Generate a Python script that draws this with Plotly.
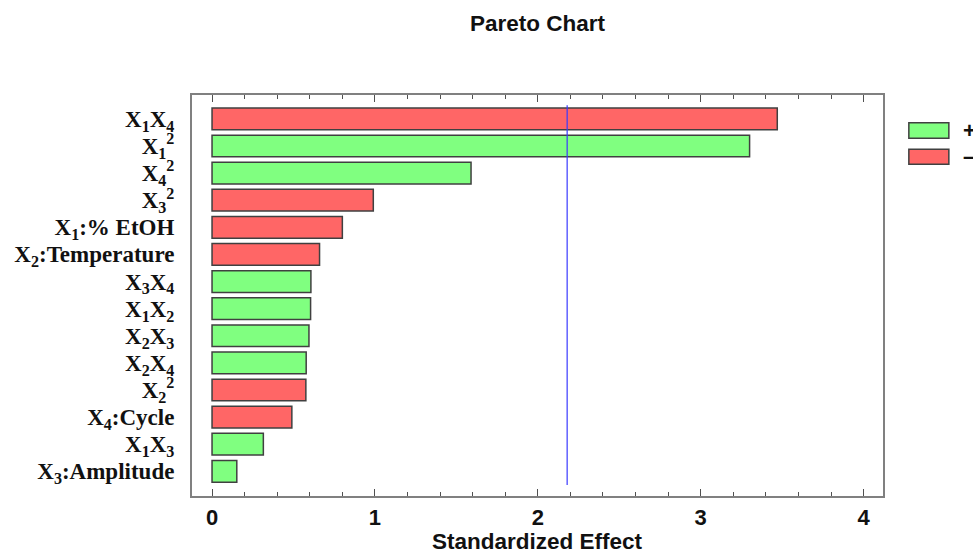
import plotly.graph_objects as go

# Effects in Pareto order (largest first)
terms = [
    "X<sub>1</sub>X<sub>4</sub>",
    "X<sub>1</sub><sup>2</sup>",
    "X<sub>4</sub><sup>2</sup>",
    "X<sub>3</sub><sup>2</sup>",
    "X<sub>1</sub>:% EtOH",
    "X<sub>2</sub>:Temperature",
    "X<sub>3</sub>X<sub>4</sub>",
    "X<sub>1</sub>X<sub>2</sub>",
    "X<sub>2</sub>X<sub>3</sub>",
    "X<sub>2</sub>X<sub>4</sub>",
    "X<sub>2</sub><sup>2</sup>",
    "X<sub>4</sub>:Cycle",
    "X<sub>1</sub>X<sub>3</sub>",
    "X<sub>3</sub>:Amplitude",
]
effects = [3.47, 3.30, 1.59, 0.99, 0.80, 0.66, 0.607, 0.605, 0.595, 0.578, 0.576, 0.49, 0.315, 0.152]
signs = ["-", "+", "+", "-", "-", "-", "+", "+", "+", "+", "-", "-", "+", "+"]
critical_value = 2.18
x_ticks = [0, 1, 2, 3, 4]

POS = "#80FF80"
NEG = "#FF6666"
EDGE = "#404040"
FRAME = "#808080"
SANS = "Liberation Sans, Arial"
SERIF = "Liberation Serif, Times New Roman"

positions = list(range(len(terms)))
colors = [POS if s == "+" else NEG for s in signs]

fig = go.Figure()
fig.add_trace(go.Bar(
    x=effects, y=positions, orientation="h",
    marker=dict(color=colors, line=dict(color=EDGE, width=1.5)),
    width=0.8, showlegend=False, hoverinfo="x+y",
))
# critical value reference line
fig.add_trace(go.Scatter(
    x=[critical_value, critical_value], y=[-0.5, len(terms) - 0.5],
    mode="lines", line=dict(color="#3a3aff", width=1.2),
    showlegend=False, hoverinfo="skip",
))

fig.update_layout(
    width=973, height=552,
    margin=dict(l=192, r=90, t=95, b=56),
    paper_bgcolor="white", plot_bgcolor="white",
    title=dict(text="<b>Pareto Chart</b>", x=0.5, xref="paper", y=1 - 23 / 552,
               yref="container", xanchor="center", yanchor="middle",
               font=dict(family=SANS, size=22.5, color="#111")),
    bargap=0.2,
)
fig.update_xaxes(
    range=[-0.123, 4.119], tickvals=x_ticks, ticktext=[f"<b>{v}</b>" for v in x_ticks],
    showgrid=False, zeroline=False, automargin=False,
    showline=True, linecolor=FRAME, linewidth=2, mirror="ticks",
    ticks="inside", ticklen=7, tickwidth=1.3, tickcolor="#505050",
    minor=dict(dtick=0.2, tick0=0, ticks="inside", ticklen=4, tickwidth=1, tickcolor="#505050"),
    tickfont=dict(family=SANS, size=22, color="#111"),
    ticklabelstandoff=1,
)
fig.update_yaxes(
    range=[13.91, -0.88], tickvals=positions, ticktext=[f"<b>{t}</b>" for t in terms],
    showgrid=False, zeroline=False, automargin=False,
    showline=True, linecolor=FRAME, linewidth=2, mirror=True,
    ticks="", ticklabelstandoff=11,
    tickfont=dict(family=SERIF, size=23, color="#111"),
)

# x-axis title placed under the tick labels
fig.add_annotation(text="<b>Standardized Effect</b>", xref="paper", yref="paper",
                   x=0.5, y=-0.114, xanchor="center", yanchor="middle", showarrow=False,
                   font=dict(family=SANS, size=22.5, color="#111"))

# sign legend drawn beside the plot
legend_rows = [("+", POS, 0.892, 0.931), ("\u2013", NEG, 0.8275, 0.8648)]
for label, col, y0, y1 in legend_rows:
    fig.add_shape(type="rect", xref="paper", yref="paper",
                  x0=1.0374, x1=1.0953, y0=y0, y1=y1,
                  fillcolor=col, line=dict(color=EDGE, width=1.5))
    fig.add_annotation(text=f"<b>{label}</b>", xref="paper", yref="paper",
                       x=1.113, y=(y0 + y1) / 2, xanchor="left", yanchor="middle",
                       showarrow=False,
                       font=dict(family=SANS, size=22, color="#111"))

fig.write_html("out.html")
